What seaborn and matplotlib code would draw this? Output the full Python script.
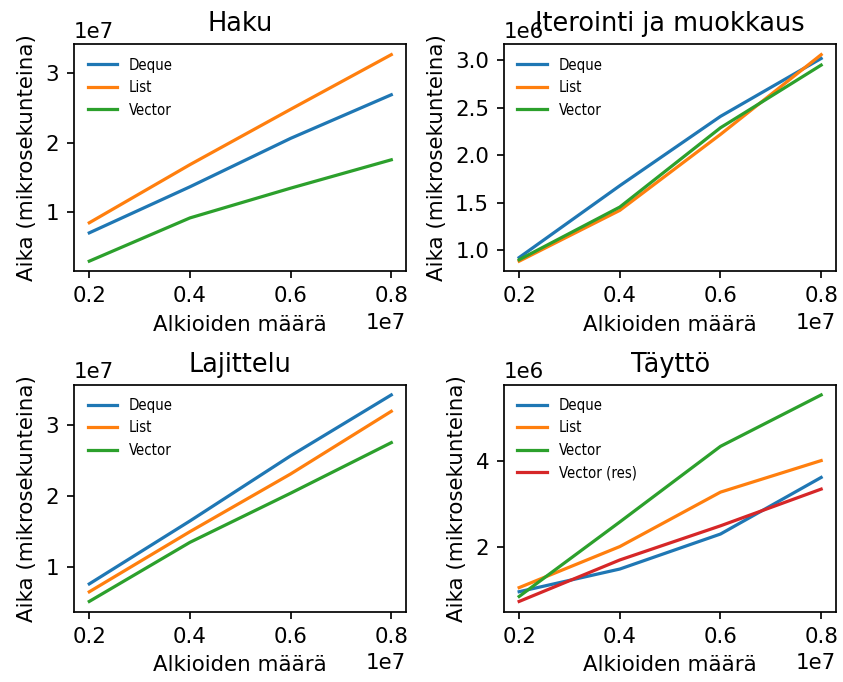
import pandas as pd
import matplotlib.pyplot as plt
import seaborn as sns
from matplotlib.font_manager import FontProperties

# Alkioiden määrät
koot = [2e6, 4e6, 6e6, 8e6]

# Haku
haku_deque = [0.694e7, 1.36e7, 2.06e7, 2.69e7]
haku_list = [0.84e7, 1.68e7, 2.48e7, 3.27e7]
haku_vector = [0.285e7, 0.91e7, 1.34e7, 1.75e7]

# Iterointi ja muokkaus
iter_deque = [0.923e6, 1.68e6, 2.41e6, 3.02e6]
iter_list = [0.885e6, 1.42e6, 2.22e6, 3.06e6]
iter_vector = [0.90e6, 1.455e6, 2.29e6, 2.95e6]

# Lajittelu
laj_deque = [0.766e7, 1.65e7, 2.565e7, 3.42e7]
laj_list = [0.655e7, 1.50e7, 2.31e7, 3.19e7]
laj_vector = [0.52e7, 1.35e7, 2.04e7, 2.75e7]

# Täyttö
tay_deque = [0.975e6, 1.50e6, 2.31e6, 3.62e6]
tay_list = [1.07e6, 2.02e6, 3.28e6, 4.01e6]
tay_vector = [0.865e6, 2.59e6, 4.34e6, 5.53e6]
tay_vector_res = [0.75e6, 1.71e6, 2.50e6, 3.35e6]

testit = [
    ("Haku", {"Deque": haku_deque, "List": haku_list, "Vector": haku_vector}),
    ("Iterointi ja muokkaus", {"Deque": iter_deque, "List": iter_list, "Vector": iter_vector}),
    ("Lajittelu", {"Deque": laj_deque, "List": laj_list, "Vector": laj_vector}),
    ("Täyttö", {"Deque": tay_deque, "List": tay_list, "Vector": tay_vector,
                "Vector (res)": tay_vector_res}),
]

legend_font = FontProperties(family="DejaVu Sans", stretch="condensed", size="x-small")

dpi = 154
fig, axes = plt.subplots(2, 2, figsize=(843 / dpi, 682 / dpi), dpi=dpi)

for ax, (nimi, sarjat) in zip(axes.flat, testit):
    rivit = []
    for sailio, arvot in sarjat.items():
        for koko, aika in zip(koot, arvot):
            rivit.append({"koko": koko, "aika": aika, "sailio": sailio})
    df = pd.DataFrame(rivit)
    sns.lineplot(data=df, x="koko", y="aika", hue="sailio", ax=ax)
    # otsikko kiinteään kohtaan, ei siirretä offset-tekstin yläpuolelle
    ax.set_title(nimi, y=1.0)
    ax.set_xlabel("Alkioiden määrä")
    ax.set_ylabel("Aika (mikrosekunteina)")
    ax.set_xticks(koot)
    ax.xaxis.get_major_formatter().set_powerlimits((7, 7))
    handles, labels = ax.get_legend_handles_labels()
    ax.legend(handles, labels, loc="upper left", frameon=False, prop=legend_font)

plt.subplots_adjust(left=0.088, right=0.992, top=0.935, bottom=0.103,
                    wspace=0.294, hspace=0.498)
plt.savefig("out.png", dpi=dpi)
